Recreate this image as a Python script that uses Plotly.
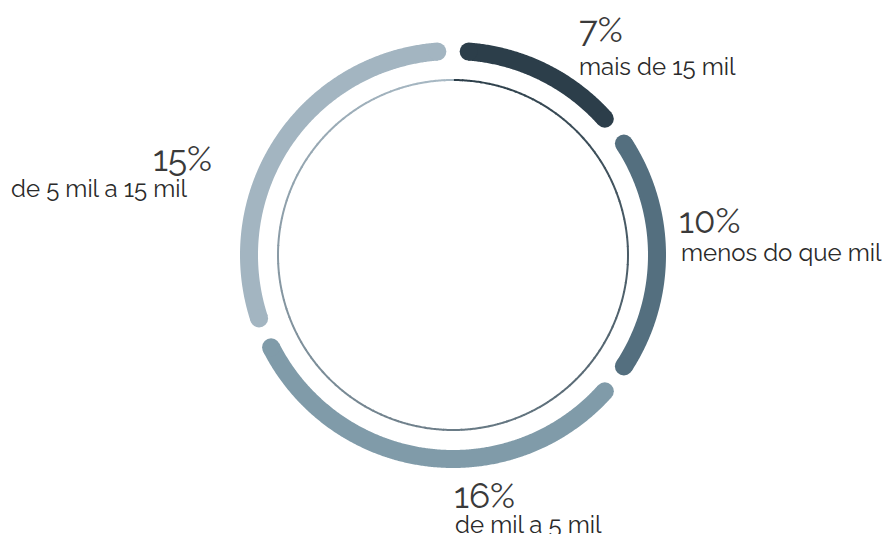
import numpy as np
import plotly.graph_objects as go

# Income brackets, clockwise from the top
shares = [7, 10, 16, 15]
pct_labels = ["7%", "10%", "16%", "15%"]
bracket_labels = ["mais de 15 mil", "menos do que mil", "de mil a 5 mil", "de 5 mil a 15 mil"]
colors = ["#2c3e4a", "#546f7f", "#809ba9", "#a3b5c1"]

R_OUT = 204      # radius of the thick segmented ring
R_IN = 175       # radius of the thin inner ring
RING_W = 18      # stroke width of the thick ring
GAP_DEG = 4.4    # angular inset at each end of a segment

fig = go.Figure()


def polar_xy(r, deg):
    a = np.radians(deg)
    return r * np.sin(a), r * np.cos(a)


# thick ring: one rounded-end arc per bracket, sized by its share of the total
total = sum(shares)
start = 0.0
for val, col in zip(shares, colors):
    span = val / total * 360.0
    a0, a1 = start + GAP_DEG, start + span - GAP_DEG
    angles = np.linspace(a0, a1, max(int((a1 - a0) * 3), 2))
    x, y = polar_xy(R_OUT, angles)
    fig.add_trace(go.Scatter(
        x=x, y=y, mode="lines",
        line=dict(color=col, width=RING_W, simplify=False),
        hoverinfo="skip", showlegend=False,
    ))
    # round caps at both ends
    fig.add_trace(go.Scatter(
        x=[x[0], x[-1]], y=[y[0], y[-1]], mode="markers",
        marker=dict(color=col, size=RING_W, opacity=1, line=dict(width=0)),
        hoverinfo="skip", showlegend=False,
    ))
    start += span

# thin inner ring, shading from dark to light going clockwise
dark = np.array([0x2b, 0x3d, 0x48])
light = np.array([0xa9, 0xba, 0xc5])
step = 3.0
for a in np.arange(0, 360, step):
    t = (a + step / 2) / 360.0
    rgb = (dark + (light - dark) * t).round().astype(int)
    angles = np.linspace(a, a + step + 0.3, 8)
    x, y = polar_xy(R_IN, angles)
    fig.add_trace(go.Scatter(
        x=x, y=y, mode="lines",
        line=dict(color="rgb(%d,%d,%d)" % tuple(rgb), width=2, simplify=False),
        hoverinfo="skip", showlegend=False,
    ))

# label placement per bracket: (x, y of percentage, y of caption, anchor, caption x)
label_pos = [
    (124, 226, 189, "left", 124),
    (224, 35, 3, "left", 226),
    (-1, -240, -269, "left", 0),
    (-239, 97, 67, "right", -263),
]
font_family = "Raleway, Lato, sans-serif"
for (px, py, cy, anchor, cx), pct, cap in zip(label_pos, pct_labels, bracket_labels):
    fig.add_annotation(x=px, y=py, text=pct, showarrow=False,
                       xanchor=anchor, yanchor="middle",
                       font=dict(family=font_family, size=35, color="#3a3a3a"))
    fig.add_annotation(x=cx, y=cy, text=cap, showarrow=False,
                       xanchor=anchor, yanchor="middle",
                       font=dict(family=font_family, size=24, color="#2a2a2a"))

fig.update_layout(
    width=886, height=534,
    margin=dict(l=0, r=0, t=0, b=0),
    paper_bgcolor="white", plot_bgcolor="white",
    xaxis=dict(range=[-453, 433], visible=False, fixedrange=True),
    yaxis=dict(range=[-279, 255], visible=False, fixedrange=True),
)

fig.write_html("out.html")
